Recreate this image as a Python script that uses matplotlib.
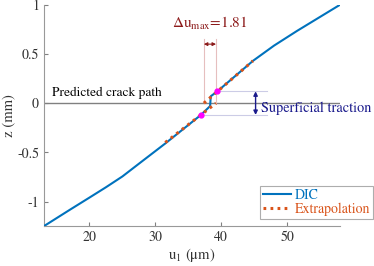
import numpy as np
import matplotlib
matplotlib.use('Agg')
import matplotlib.pyplot as plt

plt.rcParams['font.family'] = ['STIXGeneral', 'DejaVu Serif']
plt.rcParams['mathtext.fontset'] = 'stix'

# DIC displacement profile (u1 in um, z in mm)
dic_u = [13.1, 17.0, 20.0, 22.5, 25.0, 28.0, 31.5, 36.9, 38.3, 38.4, 39.4, 44.8, 48.0, 51.5, 58.0]
dic_z = [-1.25, -1.085, -0.96, -0.855, -0.745, -0.59, -0.41, -0.12, -0.03, 0.07, 0.12, 0.43, 0.585, 0.735, 1.0]

# linear extrapolations of both branches down to the crack plane
low_u = [31.5, 39.2]
low_z = [-0.40, 0.0]
up_u = [37.35, 44.8]
up_z = [0.0, 0.43]

# end points of the fitted region (superficial traction zone)
mark_u = [36.9, 39.4]
mark_z = [-0.12, 0.12]

du_max = 1.81

blue = (0, 0.447, 0.741)
orange = (0.85, 0.325, 0.098)
dark_red = (0.55, 0.1, 0.1)
navy = (0.1, 0.1, 0.55)
dots = (0, (0.9, 1.4))

fig = plt.figure(figsize=(3.74, 2.66), dpi=100)
ax = fig.add_axes([0.1176, 0.150, 0.7914, 0.832])

ax.axhline(0, color='0.5', lw=1, zorder=1)
ax.text(14.3, 0.04, 'Predicted crack path', fontsize=9.6, va='bottom')

# delta u marker
ax.plot([low_u[1], low_u[1]], [0, 0.65], color=(0.9, 0.75, 0.75), lw=0.8, zorder=1)
ax.plot([up_u[0], up_u[0]], [0, 0.65], color=(0.9, 0.75, 0.75), lw=0.8, zorder=1)
ax.annotate('', xy=(up_u[0], 0.6), xytext=(low_u[1], 0.6),
            arrowprops=dict(arrowstyle='<|-|>', color=dark_red, lw=0.8,
                            mutation_scale=5, shrinkA=0, shrinkB=0))
ax.text(38.3, 0.72, r'$\Delta$u$_{\rm max}$=%.2f' % du_max, color=dark_red,
        fontsize=11, ha='center', va='bottom')

# superficial traction zone
ax.plot([mark_u[1], 46.9], [mark_z[1], mark_z[1]], color=(0.8, 0.8, 0.9), lw=0.8, zorder=1)
ax.plot([mark_u[0], 46.9], [mark_z[0], mark_z[0]], color=(0.8, 0.8, 0.9), lw=0.8, zorder=1)
ax.annotate('', xy=(45.2, mark_z[1]), xytext=(45.2, mark_z[0]),
            arrowprops=dict(arrowstyle='<|-|>', color=navy, lw=1,
                            mutation_scale=6, shrinkA=0, shrinkB=0))
ax.text(46.0, -0.05, 'Superficial traction', color=navy, fontsize=10.3, va='center')

ax.plot(dic_u, dic_z, color=blue, lw=1.5, label='DIC', zorder=3)
ax.plot(low_u, low_z, color=orange, lw=2.2, linestyle=dots, dash_capstyle='butt',
        label='Extrapolation', zorder=4)
ax.plot(up_u, up_z, color=orange, lw=2.2, linestyle=dots, dash_capstyle='butt', zorder=4)
ax.plot(mark_u, mark_z, 'o', color='magenta', ms=3.5, zorder=5)

ax.set_xlim(13.1, 58)
ax.set_ylim(-1.25, 1)
ax.set_xticks([20, 30, 40, 50])
ax.set_yticks([-1, -0.5, 0, 0.5, 1])
ax.set_yticklabels(['-1', '-0.5', '0', '0.5', '1'])
ax.tick_params(direction='in', length=3, color='0.5', labelsize=10, labelcolor='0.2')
for s in ['top', 'right']:
    ax.spines[s].set_visible(False)
for s in ['left', 'bottom']:
    ax.spines[s].set_color('0.6')
ax.set_xlabel('u$_1$ (μm)', fontsize=10.5, color='0.2', labelpad=1)
ax.set_ylabel('z (mm)', fontsize=10.5, color='0.2', labelpad=1)

leg = ax.legend(loc='lower right', bbox_to_anchor=(0.997, 0.177),
                bbox_transform=fig.transFigure, fontsize=10, frameon=True,
                fancybox=False, edgecolor='0.6', handlelength=2.0,
                handletextpad=0.3, borderpad=0.2, labelspacing=0.05,
                borderaxespad=0)
leg.get_frame().set_linewidth(0.8)
for t, c in zip(leg.get_texts(), [blue, orange]):
    t.set_color(c)

fig.savefig('out.png', dpi=100)
